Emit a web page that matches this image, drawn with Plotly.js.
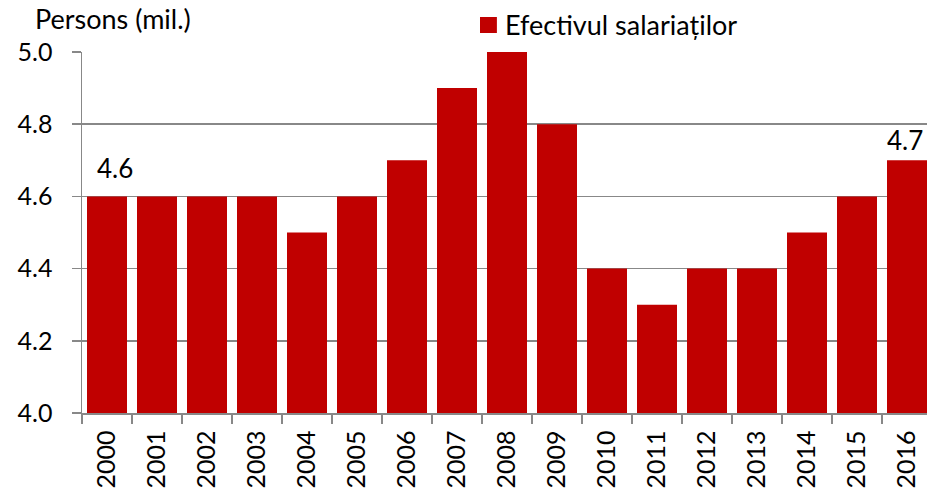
<!DOCTYPE html>
<html>
<head>
<meta charset="utf-8">
<script src="https://cdn.plot.ly/plotly-3.0.1.min.js"></script>
<style>html,body{margin:0;padding:0;background:#fff;}#chart{width:927px;height:495px;}</style>
</head>
<body>
<div id="chart"></div>
<script>
const years = ['2000','2001','2002','2003','2004','2005','2006','2007','2008','2009','2010','2011','2012','2013','2014','2015','2016'];
const employees = [4.6,4.6,4.6,4.6,4.5,4.6,4.7,4.9,5.0,4.8,4.4,4.3,4.4,4.4,4.5,4.6,4.7];
const seriesName = 'Efectivul salariaților';
const yTickVals = [4.0,4.2,4.4,4.6,4.8,5.0];
const yTickText = ['4.0','4.2','4.4','4.6','4.8','5.0'];
const labelledYears = ['2000','2016'];
const unitTitle = 'Persons (mil.)';

const font = 'Lato, "Open Sans", sans-serif';
const red = '#C00000';
const grey = '#888888';

const trace = {
  type: 'bar',
  x: years,
  y: employees,
  name: seriesName,
  marker: {color: red},
  showlegend: false,
  hoverinfo: 'x+y'
};

const labelShiftY = [28, 20];
const labelShiftX = [8, -2];
const dataLabels = labelledYears.map((yr, k) => {
  const i = years.indexOf(yr);
  return {
    xref: 'x', yref: 'y', x: i, y: employees[i],
    text: employees[i].toFixed(1), showarrow: false,
    xanchor: 'center', yanchor: 'middle',
    yshift: labelShiftY[k], xshift: labelShiftX[k],
    font: {family: font, size: 26, color: '#000'}
  };
});

const layout = {
  width: 927, height: 495,
  margin: {l: 82, r: 0, t: 52, b: 82},
  paper_bgcolor: '#fff', plot_bgcolor: '#fff',
  bargap: 0.2,
  font: {family: font, size: 25, color: '#000'},
  showlegend: false,
  xaxis: {
    type: 'category',
    range: [-0.5, 16.4],
    tickangle: -90,
    automargin: false,
    showline: true, linecolor: grey, linewidth: 1.5,
    ticks: 'outside', ticklen: 9, tickcolor: grey, tickwidth: 1.5,
    tickson: 'boundaries',
    showgrid: false,
    ticklabelstandoff: 6,
    tickfont: {family: font, size: 25, color: '#000'}
  },
  yaxis: {
    range: [4.0, 5.0],
    tickvals: yTickVals, ticktext: yTickText,
    automargin: false,
    showline: true, linecolor: grey, linewidth: 1.5,
    ticks: 'outside', ticklen: 9, tickcolor: grey, tickwidth: 1.5,
    showgrid: true, gridcolor: grey, gridwidth: 1.5,
    zeroline: false,
    tickfont: {family: font, size: 25, color: '#000'},
    ticklabelstandoff: 14
  },
  shapes: [{
    type: 'rect', xref: 'paper', yref: 'paper',
    x0: 0.471, x1: 0.491, y0: 1.0526, y1: 1.097,
    fillcolor: red, line: {width: 0}
  }],
  annotations: [{
    text: unitTitle, xref: 'paper', yref: 'paper',
    x: -0.058, y: 1.094, xanchor: 'left', yanchor: 'middle', showarrow: false,
    font: {family: font, size: 27, color: '#000'}
  }, {
    text: seriesName, xref: 'paper', yref: 'paper',
    x: 0.498, y: 1.075, xanchor: 'left', yanchor: 'middle', showarrow: false,
    font: {family: font, size: 27, color: '#000'}
  }].concat(dataLabels)
};

Plotly.newPlot('chart', [trace], layout, {displayModeBar: false, staticPlot: true});
</script>
</body>
</html>
